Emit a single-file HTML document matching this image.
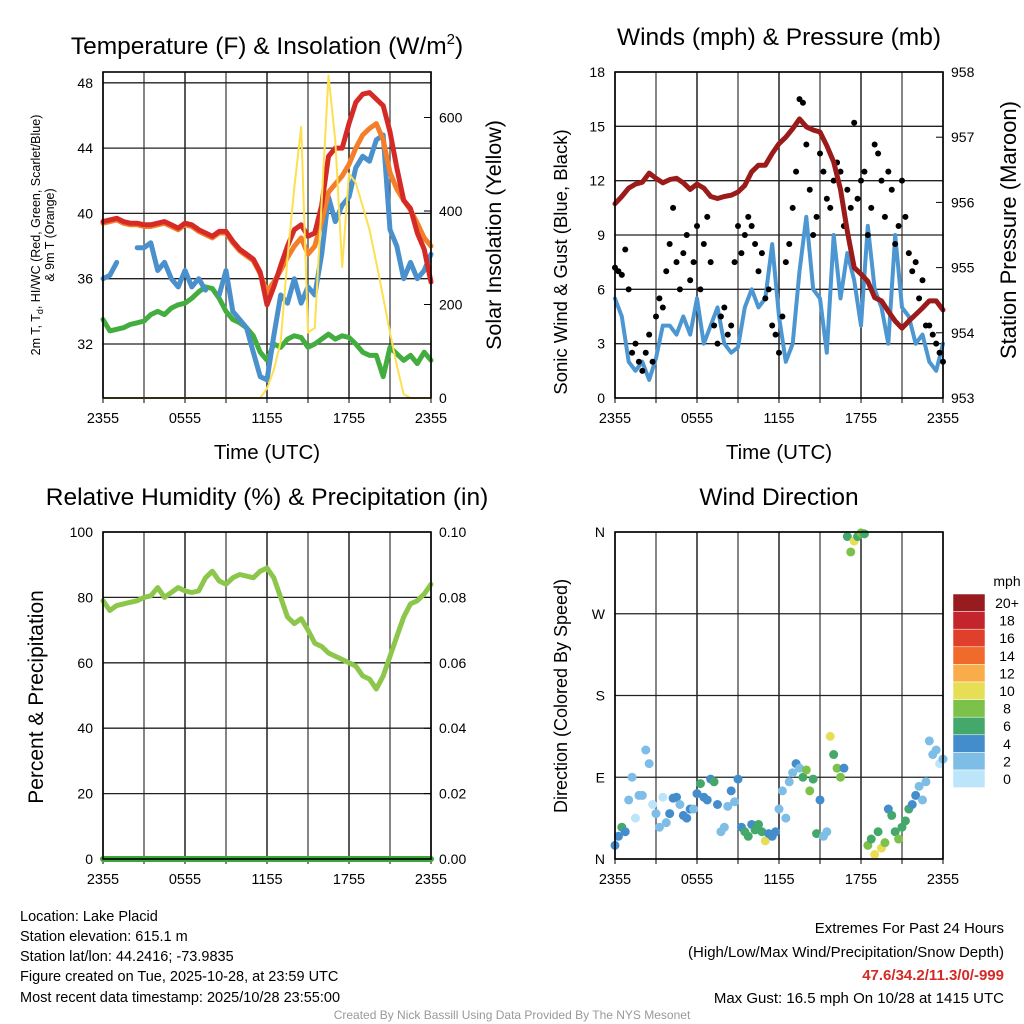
<!DOCTYPE html>
<html><head><meta charset="utf-8"><style>
body{margin:0;background:#fff;}
svg{display:block;font-family:"Liberation Sans",Arial,sans-serif;}
</style></head><body>
<svg id="s" width="1024" height="1024" viewBox="0 0 1024 1024" xmlns="http://www.w3.org/2000/svg">
<g id="fixed">
<text x="267" y="54" font-size="24.5" text-anchor="middle">Temperature (F) &amp; Insolation (W/m<tspan dy="-10" font-size="15">2</tspan><tspan dy="10">)</tspan></text>
<text x="779" y="45" font-size="24.5" text-anchor="middle">Winds (mph) &amp; Pressure (mb)</text>
<text x="267" y="505" font-size="24.5" text-anchor="middle">Relative Humidity (%) &amp; Precipitation (in)</text>
<text x="779" y="505" font-size="24.5" text-anchor="middle">Wind Direction</text>
<text x="267" y="459" font-size="20.5" text-anchor="middle">Time (UTC)</text>
<text x="779" y="459" font-size="20.5" text-anchor="middle">Time (UTC)</text>
<text transform="translate(40,235) rotate(-90)" font-size="12.5" text-anchor="middle">2m T, T<tspan dy="3" font-size="9">d</tspan><tspan dy="-3">, HI/WC (Red, Green, Scarlet/Blue)</tspan></text>
<text transform="translate(54,235) rotate(-90)" font-size="12.5" text-anchor="middle">&amp; 9m T (Orange)</text>
<text transform="translate(501,235) rotate(-90)" font-size="21.5" text-anchor="middle">Solar Insolation (Yellow)</text>
<text transform="translate(567,262) rotate(-90)" font-size="18.5" text-anchor="middle">Sonic Wind &amp; Gust (Blue, Black)</text>
<text transform="translate(1016,230) rotate(-90)" font-size="22" text-anchor="middle">Station Pressure (Maroon)</text>
<text transform="translate(43,697) rotate(-90)" font-size="21" text-anchor="middle">Percent &amp; Precipitation</text>
<text transform="translate(567,696) rotate(-90)" font-size="18" text-anchor="middle">Direction (Colored By Speed)</text>
<g font-size="14.5">
<text x="20" y="921">Location: Lake Placid</text>
<text x="20" y="941">Station elevation: 615.1 m</text>
<text x="20" y="961">Station lat/lon: 44.2416; -73.9835</text>
<text x="20" y="981">Figure created on Tue, 2025-10-28, at 23:59 UTC</text>
<text x="20" y="1002">Most recent data timestamp: 2025/10/28 23:55:00</text>
</g>
<g font-size="15" text-anchor="end">
<text x="1004" y="933">Extremes For Past 24 Hours</text>
<text x="1004" y="957">(High/Low/Max Wind/Precipitation/Snow Depth)</text>
<text x="1004" y="980" fill="#d42a25" font-weight="bold">47.6/34.2/11.3/0/-999</text>
<text x="1004" y="1003">Max Gust: 16.5 mph On 10/28 at 1415 UTC</text>
</g>
<text x="512" y="1019" font-size="12" fill="#999" text-anchor="middle">Created By Nick Bassill Using Data Provided By The NYS Mesonet</text>
<text x="1007" y="586" font-size="14" text-anchor="middle">mph</text>
</g>
</svg>
<script>
// ---- data ----
var xTickLabels = ["2355","0555","1155","1755","2355"];
var tempTicks = [32,36,40,44,48];
var solarTicks = [0,200,400,600];
var windTicks = [0,3,6,9,12,15,18];
var presTicks = [953,954,955,956,957,958];
var rhTicks = [0,20,40,60,80,100];
var precipTicks = ["0.00","0.02","0.04","0.06","0.08","0.10"];
var dirTickLabels = ["N","E","S","W","N"];
var speedBins = ["0","2","4","6","8","10","12","14","16","18","20+"];
var speedColors = ["#bde5f9","#7dbde6","#448dcc","#44a86a","#7cc24a","#e6df55","#f8ad48","#f06b2b","#e0402b","#c4242b","#981c1f"];

var temp2m = [39.5,39.6,39.7,39.5,39.4,39.4,39.3,39.3,39.4,39.5,39.3,39.1,39.4,39.3,39.0,38.8,38.6,38.9,38.9,38.3,37.8,37.5,37.2,36.4,34.4,35.5,36.8,38.0,39.0,39.3,38.6,38.8,40.5,43.5,44.0,44.0,45.5,46.8,47.3,47.4,47.0,46.6,45.0,42.8,40.8,40.3,38.8,37.8,35.8];
var temp9m = [39.4,39.5,39.6,39.4,39.3,39.3,39.2,39.2,39.3,39.4,39.2,39.0,39.3,39.2,38.9,38.7,38.5,38.8,38.8,38.2,37.7,37.4,37.1,36.3,35.2,35.8,36.5,37.3,38.0,38.5,37.5,38.0,39.5,41.3,41.8,42.3,43.0,44.0,44.8,45.2,45.5,44.5,42.5,41.5,40.8,40.2,39.4,38.5,38.0];
var heatWindChill = [36.0,36.2,37.0,null,null,37.9,37.9,38.2,36.5,37.0,36.0,35.5,36.5,35.5,36.0,35.3,null,35.0,36.5,34.0,33.5,33.0,31.5,30.0,29.8,32.5,35.0,34.5,36.0,34.5,35.5,35.0,37.5,41.0,39.5,40.5,41.0,42.8,43.5,43.2,44.5,44.8,39.0,38.0,36.0,37.0,36.0,36.5,37.5];
var dewpoint = [33.5,32.8,32.9,33.0,33.2,33.3,33.4,33.8,34.0,33.8,34.2,34.4,34.5,34.8,35.2,35.5,35.4,34.8,34.0,33.5,33.3,33.0,32.5,31.5,31.0,32.0,31.8,32.3,32.5,32.4,31.8,32.0,32.3,32.6,32.3,32.5,32.4,32.0,31.5,31.3,31.3,30.0,31.8,31.4,31.0,31.3,30.8,31.5,31.0];
var solar = [0,0,0,0,0,0,0,0,0,0,0,0,0,0,0,0,0,0,0,0,0,0,0,0,20,60,120,300,450,580,140,150,420,690,550,280,480,460,410,360,290,215,140,70,8,0,0,0,0];
var windSpeed = [5.5,4.5,2.0,1.5,2.0,1.0,2.2,4.0,4.0,3.5,4.5,3.5,5.5,3.0,4.0,5.0,3.0,2.5,2.8,5.0,6.0,5.0,5.5,8.5,4.5,2.0,3.0,7.0,10.0,6.0,5.5,2.5,9.0,5.5,8.0,6.5,4.0,9.5,6.0,5.0,3.0,9.0,5.0,4.5,3.0,3.5,2.0,1.5,3.0];
var gust = [7.2,7.0,6.8,8.2,6.0,2.5,3.0,2.0,1.5,2.5,3.5,2.0,4.5,5.5,5.0,7.0,8.5,10.5,7.5,6.0,8.0,9.0,6.5,7.5,9.5,6.0,8.5,10.0,7.5,4.0,3.0,4.5,5.0,3.5,4.0,7.5,9.5,8.0,9.0,10.0,9.5,8.5,7.0,8.0,5.5,6.0,4.0,3.5,2.5,4.5,7.5,8.5,10.5,12.5,16.5,16.3,14.0,11.5,9.0,10.0,13.5,12.5,11.0,10.5,12.0,13.0,12.5,9.5,11.5,10.5,15.2,11.0,12.0,12.5,9.0,10.5,14.0,13.5,12.0,10.0,12.5,11.5,8.5,9.5,12.0,10.0,8.0,7.0,7.5,5.5,6.5,4.0,4.0,3.5,3.0,2.5,2.0];
var pressure = [955.98,956.09,956.22,956.28,956.31,956.45,956.37,956.30,956.35,956.37,956.30,956.20,956.28,956.22,956.09,956.06,956.09,956.11,956.16,956.26,956.47,956.57,956.57,956.75,956.90,957.00,957.13,957.28,957.16,957.11,957.08,956.87,956.62,956.20,955.56,955.00,954.90,954.79,954.54,954.49,954.33,954.18,954.07,954.18,954.28,954.38,954.49,954.49,954.35];
var rh = [79,76,77.5,78,78.5,79,80,80.5,83,80,81.5,83,82,81.5,82,86,88,85,84,86,87,86.5,86,88,89,86,80,74,72,73.5,70,66,65,63,62,61,60,59,56,55,52,56,62,68,74,78,79,81,84];
var precip = [0,0,0,0,0,0,0,0,0,0,0,0,0,0,0,0,0,0,0,0,0,0,0,0,0,0,0,0,0,0,0,0,0,0,0,0,0,0,0,0,0,0,0,0,0,0,0,0,0];
var windDir = [15,25,35,30,65,90,45,70,70,120,105,60,50,35,68,40,50,67,68,60,48,45,55,55,72,83,68,65,88,85,60,30,35,58,75,63,88,35,30,25,38,32,38,30,20,28,25,30,55,75,45,85,95,105,100,90,98,75,88,28,65,25,30,135,115,100,90,100,355,338,350,355,359,358,15,22,5,30,12,18,55,48,30,22,35,42,55,60,70,80,65,85,130,115,120,105,110];
var dirSpeed = [4,4,6,4,3,2,1,3,2,3,2,1,3,2,1,3,4,4,4,3,4,4,4,3,4,6,4,4,4,6,4,3,3,3,4,3,4,4,6,6,4,6,6,6,10,4,4,4,2,3,2,3,3,4,3,6,8,8,7,6,4,3,3,10,7,8,8,4,6,8,10,7,8,6,8,7,10,6,10,8,4,6,6,8,6,6,6,4,4,3,2,3,2,3,2,1,3];

var NS="http://www.w3.org/2000/svg";
var svg=document.getElementById('s');
function mk(tag,at,parent){var e=document.createElementNS(NS,tag);for(var k in at)e.setAttribute(k,at[k]);(parent||svg).appendChild(e);return e;}

function panel(x0,x1,y0,y1){return {x0:x0,x1:x1,y0:y0,y1:y1,
  xi:function(i,n){return x0+(x1-x0)*i/(n-1);}};}
var P1=panel(103,431,72,398), P2=panel(615,943,72,398), P3=panel(103,431,532,859), P4=panel(615,943,532,859);
function yTemp(v){return 344-(v-32)*65.3/4;}
function ySolar(v){return 398-v*0.4675;}
function yWind(v){return 398-v*326/18;}
function yPres(v){return 398-(v-953)*326/5;}
function yRH(v){return 859-v*3.27;}
function yPrecip(v){return 859-v*3270;}
function yDir(v){return 859-v*327/360;}

function frame(P,name){
  var g=mk('g',{});
  
  
  for(var k=0;k<=8;k++){var x=P.x0+(P.x1-P.x0)*k/8;
    var l=mk('line',{x1:x,y1:P.y0,x2:x,y2:P.y1,stroke:(k%2?'#444':'#000'),'stroke-width':1.3},g);
    
    
    mk('line',{x1:x,y1:P.y1,x2:x,y2:P.y1+5,stroke:'#000','stroke-width':1},g);
  }
  for(var j=0;j<5;j++){var x=P.x0+(P.x1-P.x0)*j/4;
    var tx=mk('text',{x:x,y:P.y1+25,'font-size':14.5,'text-anchor':'middle'},g);tx.textContent=xTickLabels[j];
    
    
  }
  return g;
}
function hgrid(P,ticks,yf,fmt,side,name){
  var g=mk('g',{});
  
  
  ticks.forEach(function(v,i){var y=yf(v);
    if(side==='left'){
      var l=mk('line',{x1:P.x0,y1:y,x2:P.x1,y2:y,stroke:'#222','stroke-width':1.3},g);
      
      
      var t=mk('text',{x:P.x0-10,y:y+5,'font-size':14,'text-anchor':'end'},g);t.textContent=fmt?fmt[i]:v;
      
      
    } else {
      mk('line',{x1:P.x1-7,y1:y,x2:P.x1,y2:y,stroke:'#000'},g);
      var t=mk('text',{x:P.x1+8,y:y+5,'font-size':14,'text-anchor':'start'},g);t.textContent=fmt?fmt[i]:v;
      
      
    }
  });
}
function border(P){var r=mk('rect',{x:P.x0,y:P.y0,width:P.x1-P.x0,height:P.y1-P.y0,fill:'none',stroke:'#000','stroke-width':1.6});
  
  }
function series(P,arr,yf,color,w,name){
  var d='',pen=false;
  arr.forEach(function(v,i){if(v===null){pen=false;return;}var x=P.xi(i,arr.length),y=yf(v);d+=(pen?'L':'M')+x.toFixed(1)+' '+y.toFixed(1);pen=true;});
  var p=mk('path',{d:d,fill:'none',stroke:color,'stroke-width':w,'stroke-linejoin':'round','stroke-linecap':'round'});
  
  
}

frame(P1,'temperature');
hgrid(P1,tempTicks,yTemp,null,'left','temperature-y-axis');
hgrid(P1,solarTicks,ySolar,null,'right','solar-y-axis');
series(P1,dewpoint,yTemp,'#43ad3f',5,'dewpoint-line');
series(P1,heatWindChill,yTemp,'#4a90cc',5,'wind-chill-line');
series(P1,temp9m,yTemp,'#f47f2a',5,'temp-9m-line');
series(P1,temp2m,yTemp,'#d62a26',5,'temp-2m-line');
series(P1,solar,ySolar,'#fde04f',2,'solar-line');
border(P1);

frame(P2,'wind');
hgrid(P2,windTicks,yWind,null,'left','wind-y-axis');
hgrid(P2,presTicks,yPres,null,'right','pressure-y-axis');
series(P2,windSpeed,yWind,'#4c96d2',4,'wind-speed-line');
gust.forEach(function(v,i){
  var c=mk('circle',{cx:P2.xi(i,gust.length),cy:yWind(v),r:3,fill:'#000'});
  
  
});
series(P2,pressure,yPres,'#9b1b1b',5,'pressure-line');
border(P2);

frame(P3,'humidity');
hgrid(P3,rhTicks,yRH,null,'left','humidity-y-axis');
hgrid(P3,[0,0.02,0.04,0.06,0.08,0.1],yPrecip,precipTicks,'right','precip-y-axis');
series(P3,rh,yRH,'#8cc64a',5,'humidity-line');
series(P3,precip,yPrecip,'#3fa63c',6,'precip-line');
border(P3);

frame(P4,'direction');
hgrid(P4,[0,90,180,270,360],yDir,dirTickLabels,'left','direction-y-axis');
windDir.forEach(function(v,i){
  var b=Math.min(10,Math.floor(dirSpeed[i]/2));
  var c=mk('circle',{cx:P4.xi(i,windDir.length),cy:yDir(v),r:4.5,fill:speedColors[b]});
  
  
});
border(P4);

var cb=mk('g',{});


speedBins.forEach(function(lab,i){
  var k=10-i, y=594+i*17.6;
  var r=mk('rect',{x:953,y:y,width:32,height:17.6,fill:speedColors[k],stroke:'#fff','stroke-width':0.5},cb);
  
  
  var t=mk('text',{x:1007,y:y+14,'font-size':14,'text-anchor':'middle'},cb);t.textContent=speedBins[k];
  
  
});
</script>
</body></html>
